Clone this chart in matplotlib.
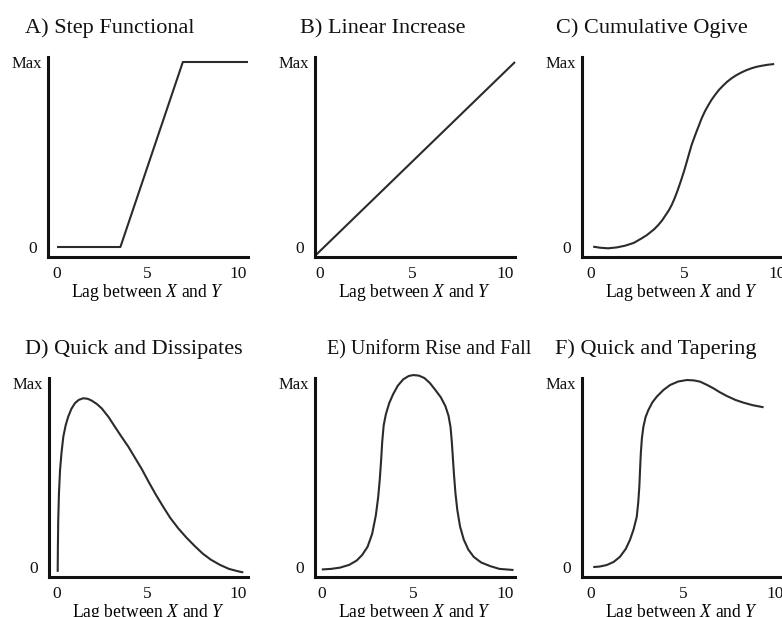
import matplotlib
matplotlib.use("Agg")
import matplotlib.pyplot as plt

plt.rcParams['font.family'] = ['Liberation Serif', 'DejaVu Serif']
plt.rcParams['mathtext.fontset'] = 'custom'
plt.rcParams['mathtext.rm'] = 'Liberation Serif'
plt.rcParams['mathtext.it'] = 'Liberation Serif:italic'

# ---- data ----
titles = ["A) Step Functional", "B) Linear Increase", "C) Cumulative Ogive",
          "D) Quick and Dissipates", "E) Uniform Rise and Fall", "F) Quick and Tapering"]

a_x = [0.0, 3.5, 6.95, 10.55]
a_y = [0.0, 0.0, 1.0, 1.0]

b_x = [-0.22, 10.54]
b_y = [-0.043, 1.0]

c_x = [0.12, 0.5, 0.93, 1.4, 1.83, 2.3, 2.73, 3.0, 3.2, 3.42, 3.62, 3.82, 4.0, 4.18,
       4.34, 4.48, 4.62, 4.75, 4.88, 5.02, 5.15, 5.28, 5.41, 5.55, 5.68, 5.82, 5.95,
       6.12, 6.3, 6.48, 6.67, 6.88, 7.1, 7.32, 7.56, 7.82, 8.1, 8.36, 8.63, 8.9, 9.2,
       9.5, 9.85]
c_y = [0.002, -0.004, -0.007, -0.002, 0.007, 0.022, 0.047, 0.064, 0.08, 0.098, 0.119,
       0.143, 0.17, 0.197, 0.227, 0.259, 0.295, 0.332, 0.371, 0.415, 0.46, 0.506, 0.551,
       0.59, 0.625, 0.661, 0.695, 0.732, 0.765, 0.795, 0.822, 0.849, 0.872, 0.893, 0.912,
       0.929, 0.944, 0.956, 0.966, 0.974, 0.98, 0.985, 0.989]

d_x = [0.04, 0.05, 0.07, 0.11, 0.17, 0.25, 0.35, 0.48, 0.62, 0.8, 0.99, 1.2, 1.45,
       1.7, 1.92, 2.2, 2.47, 2.85, 3.2, 3.55, 3.94, 4.3, 4.68, 5.05, 5.45, 5.85, 6.25,
       6.7, 7.15, 7.6, 8.05, 8.5, 9.0, 9.5, 10.0, 10.29]
d_y = [-0.026, 0.1, 0.255, 0.4, 0.527, 0.62, 0.708, 0.77, 0.817, 0.86, 0.89, 0.908,
       0.917, 0.914, 0.904, 0.886, 0.862, 0.815, 0.762, 0.71, 0.654, 0.595, 0.533, 0.465,
       0.395, 0.33, 0.268, 0.21, 0.16, 0.115, 0.073, 0.04, 0.012, -0.01, -0.023, -0.029]

e_x = [0.0, 0.5, 1.0, 1.5, 1.9, 2.2, 2.5, 2.75, 2.95, 3.08, 3.17, 3.24, 3.3, 3.38,
       3.5, 3.68, 3.9, 4.15, 4.45, 4.75, 5.0, 5.3, 5.6, 5.9, 6.2, 6.5, 6.75, 6.92, 7.03,
       7.1, 7.16, 7.22, 7.3, 7.4, 7.55, 7.75, 8.0, 8.3, 8.7, 9.2, 9.7, 10.47]
e_y = [-0.013, -0.01, -0.003, 0.012, 0.035, 0.065, 0.11, 0.18, 0.28, 0.38, 0.48, 0.58,
       0.68, 0.77, 0.83, 0.89, 0.94, 0.985, 1.02, 1.038, 1.043, 1.04, 1.027, 1.0, 0.962,
       0.922, 0.874, 0.822, 0.76, 0.68, 0.59, 0.5, 0.4, 0.31, 0.22, 0.15, 0.095, 0.055,
       0.025, 0.005, -0.01, -0.016]

f_x = [0.14, 0.5, 0.87, 1.25, 1.59, 1.9, 2.13, 2.33, 2.5, 2.58, 2.64, 2.68, 2.72, 2.78,
       2.86, 2.98, 3.13, 3.35, 3.59, 3.95, 4.31, 4.75, 5.22, 5.6, 5.94, 6.3, 6.66, 7.0,
       7.39, 7.85, 8.29, 8.8, 9.38]
f_y = [0.0, 0.003, 0.011, 0.028, 0.056, 0.098, 0.147, 0.205, 0.273, 0.35, 0.436, 0.53,
       0.617, 0.7, 0.762, 0.815, 0.853, 0.895, 0.926, 0.962, 0.989, 1.008, 1.016, 1.014,
       1.007, 0.99, 0.971, 0.95, 0.929, 0.908, 0.893, 0.879, 0.868]

series_x = [a_x, b_x, c_x, d_x, e_x, f_x]
series_y = [a_y, b_y, c_y, d_y, e_y, f_y]

xticks = [0, 5, 10]
xtick_labels = ["0", "5", "10"]
yticks = [0, 1]
ytick_labels = ["0", "Max"]
xlabel = "Lag between $X$ and $Y$"

# ---- layout (pixels) ----
W, H = 782, 617
fig = plt.figure(figsize=(W / 100, H / 100), dpi=100)
fig.patch.set_facecolor("white")

# left, top, right, bottom in pixels
boxes = [(48, 57, 248, 257), (315, 57, 515, 257), (582, 57, 782, 257),
         (49, 378, 248, 577), (315, 378, 515, 577), (582, 378, 782, 577)]
xlims = [(-0.50, 10.55), (-0.27, 10.54), (-0.48, 10.27),
         (-0.44, 10.55), (-0.37, 10.55), (-0.47, 10.38)]
title_pos = [(25, 33), (300, 33), (556, 33), (25, 354), (327, 354), (555, 354)]
title_sizes = [16, 16, 16, 16, 14.5, 16]

line_col = "#2b2b2b"
for i in range(6):
    l, t, r, b = boxes[i]
    ax = fig.add_axes([l / W, 1 - b / H, (r - l) / W, (b - t) / H])
    ax.plot(series_x[i], series_y[i], color=line_col, lw=1.5, clip_on=False,
            solid_joinstyle='round', solid_capstyle='butt')
    ax.set_xlim(*xlims[i])
    ax.set_ylim(-0.054, 1.027)
    for s in ["top", "right"]:
        ax.spines[s].set_visible(False)
    for s in ["left", "bottom"]:
        ax.spines[s].set_linewidth(2.2)
        ax.spines[s].set_color("#111111")
    ax.set_xticks(xticks)
    ax.set_xticklabels(xtick_labels, fontsize=12.5)
    ax.set_yticks(yticks)
    ax.set_yticklabels(ytick_labels)
    ylabs = ax.get_yticklabels()
    ylabs[0].set_fontsize(12.5)
    ylabs[1].set_fontsize(12)
    ax.tick_params(axis='both', length=0, colors="#111111")
    ax.tick_params(axis='x', pad=6.5)
    yt = ax.yaxis.get_major_ticks()
    yt[0].set_pad(8)
    yt[1].set_pad(4.3)
    ax.set_xlabel(xlabel, fontsize=12.7, labelpad=0)
    ax.patch.set_alpha(0)
    tx, ty = title_pos[i]
    fig.text(tx / W, 1 - ty / H, titles[i], fontsize=title_sizes[i], ha='left',
             va='baseline', color="#111111")

fig.savefig("out.png", dpi=100, facecolor="white")
